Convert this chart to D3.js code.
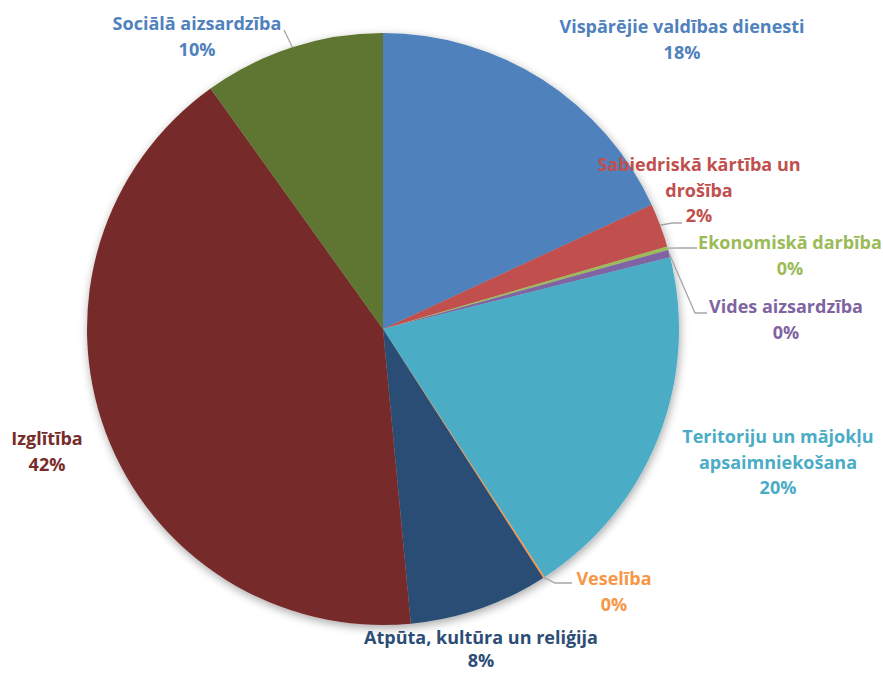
<!DOCTYPE html>
<html>
<head>
<meta charset="utf-8">
<script src="https://cdn.jsdelivr.net/npm/d3@7"></script>
<style>
  html, body { margin: 0; padding: 0; background: #fff; }
  svg { display: block; }
  text { font-family: "Open Sans", Lato, sans-serif; font-weight: 700; }
</style>
</head>
<body>
<svg id="chart" width="883" height="673"></svg>
<script>
// ---- DATA ----
const categories = [
  "Vispārējie valdības dienesti",
  "Sabiedriskā kārtība un drošība",
  "Ekonomiskā darbība",
  "Vides aizsardzība",
  "Teritoriju un mājokļu apsaimniekošana",
  "Veselība",
  "Atpūta, kultūra un reliģija",
  "Izglītība",
  "Sociālā aizsardzība"
];
const shares = [18.1, 2.4, 0.2, 0.4, 19.7, 0.1, 7.6, 41.6, 9.9];

// ---- STYLE / LAYOUT ----
const sliceColors = ["#4F81BD", "#C0504D", "#9BBB59", "#8064A2", "#4BACC6", "#F79646", "#2C4D75", "#772C2A", "#5F7530"];
const labelColors = ["#4F81BD", "#C0504D", "#9BBB59", "#8064A2", "#4BACC6", "#F79646", "#2C4D75", "#772C2A", "#4F81BD"];
// label anchor (center x, first baseline y, line spacing) and line breaks
const labelLayout = [
  { x: 682, y: 33, h: 25.5, lines: ["Vispārējie valdības dienesti"] },
  { x: 699, y: 171, h: 25.5, lines: ["Sabiedriskā kārtība un", "drošība"] },
  { x: 790, y: 249, h: 25.5, lines: ["Ekonomiskā darbība"] },
  { x: 786, y: 313, h: 25.5, lines: ["Vides aizsardzība"] },
  { x: 778, y: 443, h: 25.5, lines: ["Teritoriju un mājokļu", "apsaimniekošana"] },
  { x: 614, y: 585, h: 25.5, lines: ["Veselība"] },
  { x: 481, y: 644, h: 23, lines: ["Atpūta, kultūra un reliģija"] },
  { x: 47, y: 445, h: 25.5, lines: ["Izglītība"] },
  { x: 197, y: 30, h: 25.5, lines: ["Sociālā aizsardzība"] }
];
// leader line knee/end points (null = no leader line)
const leaders = [
  null,
  [[672, 223], [682, 223]],
  [[682, 248], [697, 248]],
  [[695, 313], [707, 313]],
  null,
  [[555, 583], [572, 583]],
  null,
  null,
  [[284, 30]]
];
const fontSize = 18;

const cx = 383, cy = 329, R = 296;

const svg = d3.select("#chart");
const defs = svg.append("defs");
const f = defs.append("filter").attr("id", "shadow")
  .attr("x", "-20%").attr("y", "-20%").attr("width", "140%").attr("height", "140%");
f.append("feGaussianBlur").attr("in", "SourceAlpha").attr("stdDeviation", 5).attr("result", "blur");
f.append("feOffset").attr("in", "blur").attr("dx", 1).attr("dy", 3).attr("result", "off");
f.append("feComponentTransfer").attr("in", "off").attr("result", "sh")
  .append("feFuncA").attr("type", "linear").attr("slope", 0.35);
const merge = f.append("feMerge");
merge.append("feMergeNode").attr("in", "sh");
merge.append("feMergeNode").attr("in", "SourceGraphic");

const data = categories.map((c, i) => ({ name: c, value: shares[i], i }));
const pie = d3.pie().value(d => d.value).sort(null);
const arcs = pie(data);
const arc = d3.arc().innerRadius(0).outerRadius(R);

const g = svg.append("g").attr("transform", `translate(${cx},${cy})`);
g.append("g").attr("filter", "url(#shadow)")
  .selectAll("path").data(arcs).join("path")
  .attr("d", arc)
  .attr("fill", d => sliceColors[d.data.i]);

// leader lines
arcs.forEach((a, i) => {
  const pts = leaders[i];
  if (!pts) return;
  const mid = (a.startAngle + a.endAngle) / 2;
  const p0 = [cx + R * Math.sin(mid), cy - R * Math.cos(mid)];
  const all = [p0].concat(pts);
  svg.append("path")
    .attr("d", d3.line()(all))
    .attr("fill", "none")
    .attr("stroke", "#A6A6A6")
    .attr("stroke-width", 1.3);
});

// labels
const total = d3.sum(shares);
arcs.forEach((a, i) => {
  const L = labelLayout[i];
  const pct = Math.round(a.data.value / total * 100) + "%";
  const lines = L.lines.concat([pct]);
  const t = svg.append("text")
    .attr("text-anchor", "middle")
    .attr("font-size", fontSize)
    .attr("fill", labelColors[i]);
  lines.forEach((ln, k) => {
    t.append("tspan").attr("x", L.x).attr("y", L.y + k * L.h).text(ln);
  });
});
</script>
</body>
</html>
